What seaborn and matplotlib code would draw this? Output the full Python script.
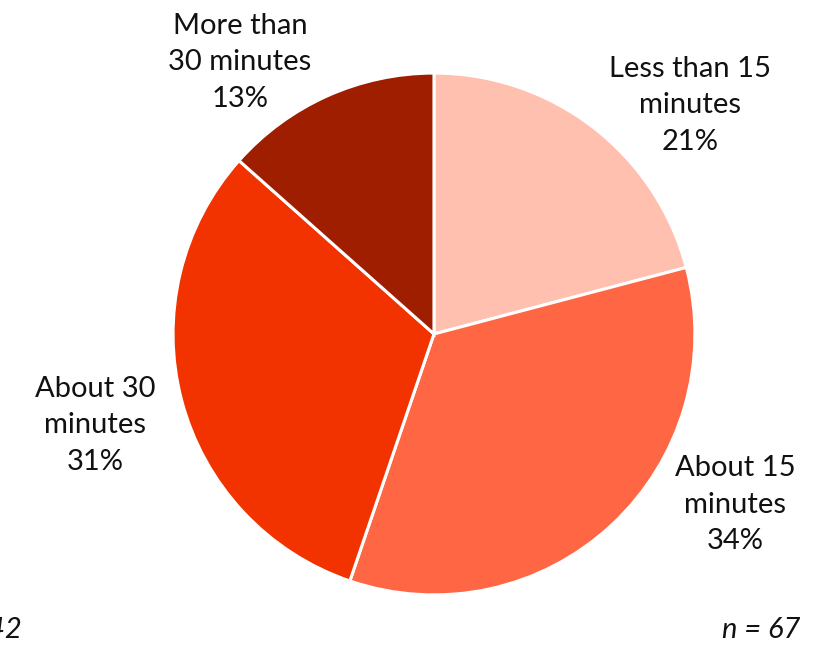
import matplotlib
matplotlib.use('Agg')
import matplotlib.pyplot as plt
import seaborn as sns

# data (n = 67)
categories = ['Less than 15\nminutes', 'About 15\nminutes', 'About 30\nminutes', 'More than\n30 minutes']
counts = [14, 23, 21, 9]
colors = ['#FFC0B0', '#FF6644', '#F23300', '#A01E00']

sns.set_theme(style='white')
plt.rcParams['font.family'] = ['Lato', 'DejaVu Sans']

fig = plt.figure(figsize=(8.33, 6.45), dpi=100)
ax = fig.add_axes([0, 0, 1, 1])

wedges, _ = ax.pie(counts, colors=sns.color_palette(colors), startangle=90, counterclock=False,
                   radius=1, wedgeprops={'edgecolor': 'white', 'linewidth': 2.2})

# label positions (in pie radius units)
label_pos = [(0.981, 0.877), (1.153, -0.655), (-1.299, -0.349), (-0.743, 1.042)]
total = sum(counts)
for cat, c, (x, y) in zip(categories, counts, label_pos):
    pct = round(100 * c / total)
    ax.text(x, y, f'{cat}\n{pct}%', ha='center', va='center', fontsize=21,
            linespacing=1.5, color='#111111')

ax.set_xlim(-1.663, 1.529)
ax.set_ylim(-1.192, 1.280)
ax.set_aspect('equal')
ax.axis('off')

fig.text(800 / 833, 1 - 630 / 645, f'n = {total}', ha='right', va='center', fontsize=21,
         style='italic', color='#111111')
fig.text(22 / 833, 1 - 630 / 645, 'n = 42', ha='right', va='center', fontsize=21,
         style='italic', color='#111111')

fig.savefig('out.png', dpi=100)
